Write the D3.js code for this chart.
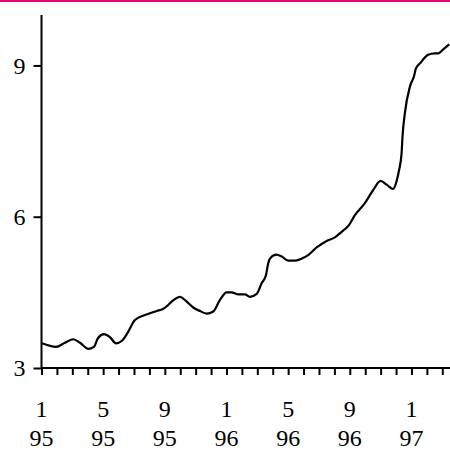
<!DOCTYPE html>
<html><head><meta charset="utf-8">
<script src="https://cdn.jsdelivr.net/npm/d3@7"></script>
<style>html,body{margin:0;padding:0;background:#fff;}svg{display:block;}
text{font-family:"Liberation Serif","Times New Roman",Times,serif;}</style>
</head><body>
<script>
// month index (0 = Jan 1995), value
const months = [0.03,0.94,1.52,2.06,2.5,3.04,3.4,3.66,4.05,4.44,4.83,5.22,5.61,6.06,6.71,7.47,7.88,8.22,8.46,8.98,9.37,9.84,10.28,10.71,11.14,11.58,12.01,12.33,12.74,13.2,13.52,13.96,14.28,14.56,14.71,14.93,15.25,15.58,16.0,16.44,17.09,17.3,17.85,18.5,19.03,19.47,19.96,20.33,20.98,21.52,22.0,22.41,22.81,23.04,23.2,23.36,23.42,23.57,23.9,24.16,24.29,24.55,25.08,25.52,25.73,26.06,26.45];
const values = [3.49,3.42,3.50,3.57,3.50,3.38,3.42,3.59,3.67,3.61,3.49,3.54,3.71,3.95,4.05,4.13,4.17,4.25,4.32,4.41,4.33,4.20,4.13,4.08,4.12,4.35,4.50,4.50,4.46,4.46,4.41,4.47,4.68,4.84,5.08,5.21,5.25,5.21,5.13,5.13,5.20,5.24,5.39,5.52,5.59,5.70,5.84,6.03,6.27,6.53,6.71,6.63,6.55,6.71,6.93,7.26,7.59,8.05,8.58,8.78,8.94,9.04,9.21,9.24,9.24,9.32,9.42];
const yTicks = [3, 6, 9];
const monthTickLabels = ["1","5","9","1","5","9","1"];
const yearTickLabels = ["95","95","95","96","96","96","97"];

const W = 450, H = 451;
const svg = d3.select("body").append("svg").attr("width", W).attr("height", H);

svg.append("rect").attr("x",0).attr("y",0).attr("width",W).attr("height",2).attr("fill","#e5007d");

const x = d3.scaleLinear().domain([0, 26.5]).range([41.5, 450]);
const y = d3.scaleLinear().domain([3, 10]).range([368, 15]);

// y axis
const yAxis = svg.append("g").attr("transform","translate(41.5,0)")
  .call(d3.axisLeft(y).tickValues(yTicks).tickSize(8).tickPadding(8).tickFormat(d3.format("d")));
yAxis.attr("font-family", null).attr("font-size", null);
yAxis.select(".domain").attr("d", `M0,${y(10)}V${y(3)}`).attr("stroke","#000").attr("stroke-width",2);
yAxis.selectAll(".tick line").attr("stroke","#000").attr("stroke-width",2);
yAxis.selectAll(".tick text").style("font-size","24px").attr("fill","#000").attr("dy","0.33em");

// x axis
const xTickVals = d3.range(0, 27);
const xAxis = svg.append("g").attr("transform",`translate(0,${y(3)})`)
  .call(d3.axisBottom(x).tickValues(xTickVals).tickSize(7).tickFormat(""));
xAxis.select(".domain").attr("d", `M${x(0)},0H${x(26.5)}`).attr("stroke","#000").attr("stroke-width",2);
xAxis.selectAll(".tick line").attr("stroke","#000").attr("stroke-width",2);

const labelIdx = d3.range(0, 25, 4);
const lbl = svg.append("g").attr("fill","#000").attr("text-anchor","middle").style("font-size","24px");
labelIdx.forEach((m,i)=>{
  lbl.append("text").attr("x", x(m)).attr("y", 417).text(monthTickLabels[i]);
  lbl.append("text").attr("x", x(m)).attr("y", 446).text(yearTickLabels[i]);
});

// line
const data = months.map((m,i)=>({m, v: values[i]}));
svg.append("path").datum(data)
  .attr("fill","none").attr("stroke","#000").attr("stroke-width",2.2).attr("stroke-linejoin","round")
  .attr("d", d3.line().x(d=>x(d.m)).y(d=>y(d.v)).curve(d3.curveMonotoneX));
</script>
</body></html>
